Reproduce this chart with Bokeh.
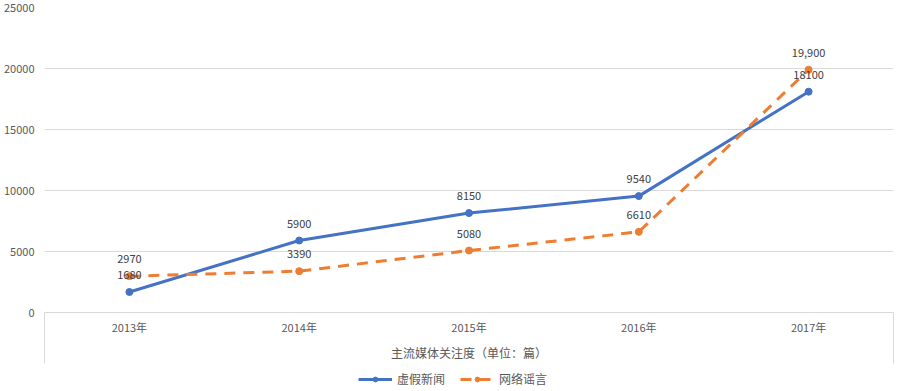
from bokeh.plotting import figure
from bokeh.layouts import column
from bokeh.models import Range1d, FixedTicker, Legend, LegendItem, ColumnDataSource
from bokeh.embed import file_html
from bokeh.resources import INLINE
from bokeh.core.properties import value

years = ["2013年", "2014年", "2015年", "2016年", "2017年"]
fake_news = [1680, 5900, 8150, 9540, 18100]
rumors = [2970, 3390, 5080, 6610, 19900]
fake_labels = ["1680", "5900", "8150", "9540", "18100"]
rumor_labels = ["2970", "3390", "5080", "6610", "19,900"]
y_ticks = [0, 5000, 10000, 15000, 20000, 25000]
axis_title = "主流媒体关注度（单位：篇）"
series_names = ["虚假新闻", "网络谣言"]

xs = [i + 0.5 for i in range(len(years))]
FONT = "Noto Sans CJK SC"
BLUE = "#4472C4"
ORANGE = "#ED7D31"
DASH = "11 8"

p = figure(width=895, height=368, x_range=Range1d(0, len(years)), y_range=Range1d(0, 25000),
           output_backend="svg", toolbar_location=None,
           min_border_left=30, min_border_right=2, min_border_top=7, min_border_bottom=56)
p.outline_line_color = None
p.background_fill_color = "white"

# y axis
p.yaxis.ticker = FixedTicker(ticks=y_ticks)
p.yaxis.axis_line_color = None
p.yaxis.major_tick_line_color = None
p.yaxis.minor_tick_line_color = None
p.yaxis.major_label_standoff = 4
p.yaxis.major_label_text_font = FONT
p.yaxis.major_label_text_font_size = "11px"
p.yaxis.major_label_text_color = "#595959"
p.ygrid.ticker = FixedTicker(ticks=y_ticks)
p.ygrid.grid_line_color = "#d9d9d9"
p.xgrid.grid_line_color = None

# x axis
p.xaxis.ticker = FixedTicker(ticks=xs, minor_ticks=[0, len(years)])
p.xaxis.major_label_overrides = {x: y for x, y in zip(xs, years)}
p.xaxis.axis_line_color = "#d9d9d9"
p.xaxis.major_tick_out = 0
p.xaxis.major_tick_in = 0
p.xaxis.minor_tick_out = 51
p.xaxis.minor_tick_in = 0
p.xaxis.minor_tick_line_color = "#d9d9d9"
p.xaxis.major_label_standoff = -45
p.xaxis.major_label_text_font = FONT
p.xaxis.major_label_text_font_size = "11px"
p.xaxis.major_label_text_color = "#595959"
p.xaxis.axis_label = axis_title
p.xaxis.axis_label_text_font = FONT
p.xaxis.axis_label_text_font_size = "12px"
p.xaxis.axis_label_text_font_style = "normal"
p.xaxis.axis_label_text_color = "#595959"
p.xaxis.axis_label_standoff = 6

src1 = ColumnDataSource(dict(x=xs, y=fake_news, t=fake_labels))
src2 = ColumnDataSource(dict(x=xs, y=rumors, t=rumor_labels))

l1 = p.line("x", "y", source=src1, line_color=BLUE, line_width=3)
m1 = p.scatter("x", "y", source=src1, size=7, fill_color=BLUE, line_color=BLUE)
l2 = p.line("x", "y", source=src2, line_color=ORANGE, line_width=3, line_dash=DASH)
m2 = p.scatter("x", "y", source=src2, size=7, fill_color=ORANGE, line_color=ORANGE)

for s in (src1, src2):
    p.text("x", "y", text="t", source=s, y_offset=-17, text_align="center", text_baseline="middle",
           text_font=value(FONT), text_font_size="11px", text_color="#404040")

# legend in a slim strip below the chart (same series, out of this strip's visible range)
pl = figure(width=895, height=23, x_range=Range1d(-100, -99), y_range=Range1d(-100, -99),
            output_backend="svg", toolbar_location=None, min_border=0)
pl.axis.visible = False
pl.grid.grid_line_color = None
pl.outline_line_color = None
d1 = pl.line("x", "y", source=src1, line_color=BLUE, line_width=3)
e1 = pl.scatter("x", "y", source=src1, size=7, fill_color=BLUE, line_color=BLUE)
d2 = pl.line("x", "y", source=src2, line_color=ORANGE, line_width=3, line_dash=DASH)
e2 = pl.scatter("x", "y", source=src2, size=7, fill_color=ORANGE, line_color=ORANGE)
legend = Legend(items=[LegendItem(label=series_names[0], renderers=[d1, e1]),
                       LegendItem(label=series_names[1], renderers=[d2, e2])],
                orientation="horizontal", location=(314, 4), padding=0, margin=0, spacing=15,
                glyph_width=34, glyph_height=12, label_standoff=5, label_height=12,
                label_text_font=FONT, label_text_font_size="12px", label_text_color="#595959",
                border_line_color=None, background_fill_alpha=0)
pl.add_layout(legend, "center")

layout = column(p, pl, spacing=0)
open("out.html", "w").write(file_html(layout, INLINE))
